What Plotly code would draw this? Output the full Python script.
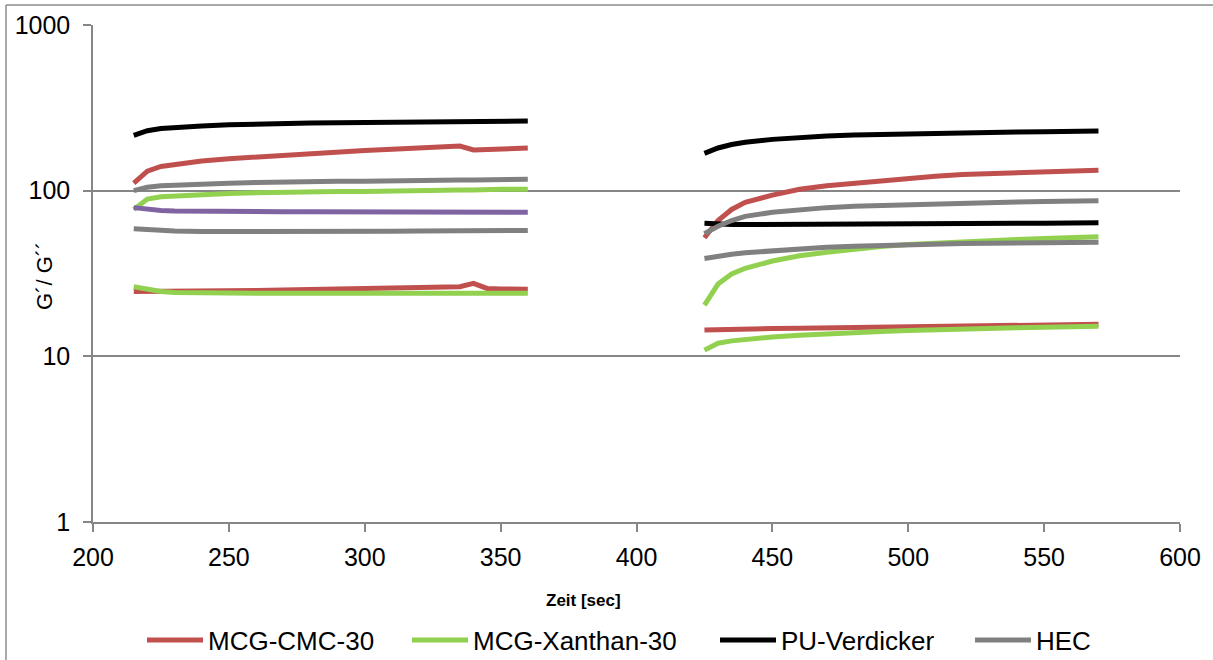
import plotly.graph_objects as go

# ---------------- data ----------------
x_seg1 = [215, 220, 225, 230, 240, 250, 260, 270, 280, 290, 300, 310, 320, 330, 335, 340, 345, 350, 360]
x_seg2 = [425, 430, 435, 440, 450, 460, 470, 480, 490, 500, 510, 520, 530, 540, 550, 560, 570]

# MCG-CMC-30
cmc_g1_s1 = [111, 131, 140, 144, 151, 156, 160, 164, 168, 172, 175, 178, 181, 184, 186, 176, 177, 179, 181]
cmc_g2_s1 = [24.6, 24.6, 24.6, 24.7, 24.8, 24.9, 25.0, 25.1, 25.3, 25.4, 25.5, 25.7, 25.9, 26.1, 26.3, 27.6, 25.7, 25.5, 25.4]
cmc_g1_s2 = [52, 66, 77, 85, 94, 102, 107, 111, 115, 119, 122, 125, 127, 129, 131, 132, 133]
cmc_g2_s2 = [14.4, 14.5, 14.55, 14.6, 14.7, 14.8, 14.85, 14.9, 15.0, 15.05, 15.1, 15.2, 15.3, 15.35, 15.4, 15.5, 15.6]

# MCG-Xanthan-30
xan_g1_s1 = [77, 89, 92, 93, 95, 96, 97, 98, 98, 99, 99, 100, 100, 101, 101, 101, 102, 102, 102]
xan_g2_s1 = [26.3, 25.3, 24.6, 24.3, 24.1, 24.0, 24.0, 24.0, 24.0, 24.0, 24.0, 24.0, 24.0, 24.0, 24.0, 24.0, 24.0, 24.0, 24.0]
xan_g1_s2 = [20.4, 27.3, 31.4, 34, 37.6, 40.5, 42.5, 44.5, 46, 47.3, 48.3, 49.2, 50, 50.8, 51.5, 52.1, 52.7]
xan_g2_s2 = [10.9, 12.0, 12.4, 12.7, 13.1, 13.4, 13.7, 13.9, 14.1, 14.3, 14.5, 14.6, 14.8, 14.9, 15.0, 15.1, 15.2]

# PU-Verdicker
pu_g1_s1 = [216, 230, 237, 241, 246, 250, 253, 255, 256, 257, 258, 259, 259, 260, 260, 261, 261, 262, 263]
pu_g2_s1 = [79, 77, 76, 75.5, 75, 75, 74.8, 74.7, 74.6, 74.5, 74.5, 74.4, 74.3, 74.2, 74.2, 74.2, 74.1, 74.1, 74.0]
pu_g1_s2 = [168, 181, 190, 196, 204, 210, 214, 217, 219, 221, 223, 224, 225, 226, 227, 228, 229]
pu_g2_s2 = [63.5, 62.5, 62.5, 62.5, 62.5, 62.6, 62.7, 62.8, 62.9, 63.0, 63.1, 63.2, 63.3, 63.5, 63.6, 63.8, 64.0]

# HEC
hec_g1_s1 = [100, 105, 107, 108, 110, 111, 112, 113, 113, 114, 114, 115, 115, 116, 116, 116, 116, 117, 117]
hec_g2_s1 = [58.8, 58, 57.3, 57, 56.7, 56.6, 56.6, 56.6, 56.7, 56.8, 56.8, 56.9, 57, 57.1, 57.2, 57.2, 57.3, 57.4, 57.5]
hec_g1_s2 = [55, 61, 66, 70, 74, 77, 79, 80.5, 81.5, 82.5, 83.5, 84, 84.5, 85.5, 86, 86.5, 87]
hec_g2_s2 = [39, 40.3, 41.3, 42.2, 43.5, 44.6, 45.5, 46.2, 46.8, 47.2, 47.6, 47.9, 48.1, 48.3, 48.5, 48.7, 48.9]

x_ticks = [200, 250, 300, 350, 400, 450, 500, 550, 600]
y_ticks = [1, 10, 100, 1000]
y_ticktext = ["1", "10", "100", "1000"]

names = ["MCG-CMC-30", "MCG-Xanthan-30", "PU-Verdicker", "HEC"]
colors = ["#C0504D", "#92D050", "#000000", "#808080"]
purple = "#8064A2"

# ---------------- layout geometry ----------------
W, H = 1213, 660
L, R, T, B = 93, 1180, 25, 522
pw, ph = R - L, B - T


def px(xp):
    return (xp - L) / pw


def py(yp):
    return (B - yp) / ph


FONT = "Liberation Sans, Arial, sans-serif"
GRID = "#868686"

fig = go.Figure()


def joined(a, b):
    return list(a) + [None] + list(b)


xs = joined(x_seg1, x_seg2)
series = [
    (cmc_g1_s1, cmc_g1_s2, cmc_g2_s1, cmc_g2_s2),
    (xan_g1_s1, xan_g1_s2, xan_g2_s1, xan_g2_s2),
    (pu_g1_s1, pu_g1_s2, None, pu_g2_s2),
    (hec_g1_s1, hec_g1_s2, hec_g2_s1, hec_g2_s2),
]
legend_ids = ["legend", "legend2", "legend3", "legend4"]

for i, (name, col, (g1a, g1b, g2a, g2b)) in enumerate(zip(names, colors, series)):
    fig.add_trace(go.Scatter(
        x=xs, y=joined(g1a, g1b), mode="lines", name=name,
        line=dict(color=col, width=5), connectgaps=False,
        legend=legend_ids[i], legendgroup=name, showlegend=True))
    if g2a is not None:
        fig.add_trace(go.Scatter(
            x=xs, y=joined(g2a, g2b), mode="lines", name=name + " G''",
            line=dict(color=col, width=5), connectgaps=False,
            legendgroup=name, showlegend=False))
    else:
        fig.add_trace(go.Scatter(
            x=x_seg2, y=g2b, mode="lines", name=name + " G''",
            line=dict(color=col, width=5),
            legendgroup=name, showlegend=False))

# purple series (first segment, not in legend)
fig.add_trace(go.Scatter(
    x=x_seg1, y=pu_g2_s1, mode="lines", name="PU-Verdicker G'' (1)",
    line=dict(color=purple, width=5), showlegend=False))

# legends, one per entry, placed like the original
leg_line_starts = [148, 413, 721, 976]
legend_cfg = {}
for lid, xs_ in zip(legend_ids, leg_line_starts):
    legend_cfg[lid] = dict(
        x=px(xs_ - 6), y=py(640), xanchor="left", yanchor="middle",
        orientation="h", font=dict(family=FONT, size=26, color="#000000"),
        bgcolor="rgba(0,0,0,0)", borderwidth=0, itemwidth=56,
        tracegroupgap=0)

fig.update_layout(
    width=W, height=H,
    margin=dict(l=L, r=W - R, t=T, b=H - B, pad=0, autoexpand=False),
    paper_bgcolor="white", plot_bgcolor="white",
    font=dict(family=FONT, color="#000000"),
    xaxis=dict(
        range=[200, 600], tickvals=x_ticks, showgrid=False, zeroline=False,
        showline=True, linecolor=GRID, linewidth=1.5,
        ticks="outside", ticklen=8, tickwidth=1.5, tickcolor=GRID,
        tickfont=dict(family=FONT, size=25, color="#000000"),
        ticklabelstandoff=4),
    yaxis=dict(
        type="log", range=[0, 3], tickvals=y_ticks, ticktext=y_ticktext,
        showgrid=True, gridcolor=GRID, gridwidth=1.5, zeroline=False,
        showline=True, linecolor=GRID, linewidth=1.5,
        ticks="outside", ticklen=8, tickwidth=1.5, tickcolor=GRID,
        tickfont=dict(family=FONT, size=25, color="#000000"),
        ticklabelstandoff=8),
    showlegend=True,
    **legend_cfg,
    annotations=[
        dict(text="<b>Zeit [sec]</b>", x=px(583), y=py(600), xref="paper", yref="paper",
             showarrow=False, xanchor="center", yanchor="middle",
             font=dict(family=FONT, size=17, color="#000000")),
        dict(text="G´/ G´´", x=px(44), y=py(276), xref="paper", yref="paper",
             showarrow=False, textangle=-90, xanchor="center", yanchor="middle",
             font=dict(family=FONT, size=22, color="#000000")),
    ],
    shapes=[
        dict(type="line", xref="paper", yref="paper", x0=px(6), x1=px(6),
             y0=py(H + 5), y1=py(5), line=dict(color="#8C8C8C", width=1.5)),
        dict(type="line", xref="paper", yref="paper", x0=px(6), x1=px(W + 5),
             y0=py(5), y1=py(5), line=dict(color="#8C8C8C", width=1.5)),
    ],
)

fig.write_html("out.html")
